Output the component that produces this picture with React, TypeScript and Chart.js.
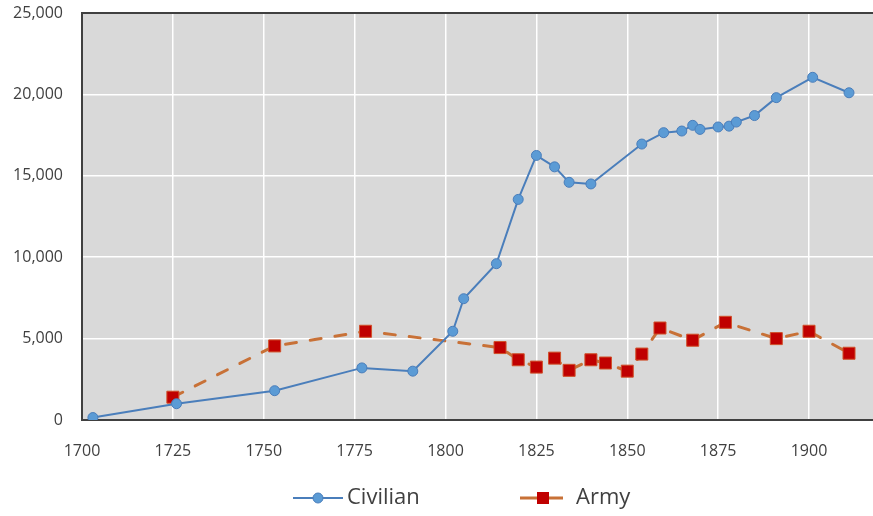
import { useEffect, useRef } from 'react';
import { Chart, registerables } from 'chart.js';

Chart.register(...registerables);

const civilianYears = [1703, 1726, 1753, 1777, 1791, 1802, 1805, 1814, 1820, 1825, 1830, 1834, 1840, 1854, 1860, 1865, 1868, 1870, 1875, 1878, 1880, 1885, 1891, 1901, 1911];
const civilianValues = [150, 1000, 1800, 3200, 3000, 5450, 7450, 9600, 13550, 16250, 15550, 14600, 14500, 16950, 17650, 17750, 18100, 17850, 18000, 18050, 18300, 18700, 19800, 21050, 20100];

const armyYears = [1725, 1753, 1778, 1815, 1820, 1825, 1830, 1834, 1840, 1844, 1850, 1854, 1859, 1868, 1877, 1891, 1900, 1911];
const armyValues = [1400, 4550, 5450, 4450, 3700, 3250, 3800, 3050, 3700, 3500, 3000, 4050, 5650, 4900, 6000, 5000, 5450, 4100];

const xTickYears = [1700, 1725, 1750, 1775, 1800, 1825, 1850, 1875, 1900];
const yTickValues = [0, 5000, 10000, 15000, 20000, 25000];

const seriesNames = ['Civilian', 'Army'];

const FONT = '"Open Sans", "Noto Sans", sans-serif';
const CIV_LINE = '#4a7ebb';
const CIV_POINT = '#5b9bd5';
const ARMY_LINE = '#c87137';
const ARMY_POINT = '#c00000';

const bgPlugin = {
  id: 'plotBg',
  beforeDraw(chart: any) {
    const { ctx, chartArea } = chart;
    ctx.save();
    ctx.fillStyle = '#d9d9d9';
    ctx.fillRect(chartArea.left, chartArea.top, chartArea.right - chartArea.left, chartArea.bottom - chartArea.top);
    ctx.restore();
  },
  afterDatasetsDraw(chart: any) {
    const { ctx, chartArea } = chart;
    ctx.save();
    ctx.strokeStyle = '#404040';
    ctx.lineWidth = 2;
    ctx.beginPath();
    ctx.moveTo(chartArea.left, chartArea.top);
    ctx.lineTo(chartArea.right + 2, chartArea.top);
    ctx.stroke();
    ctx.restore();
  },
};

const legendPlugin = {
  id: 'customLegend',
  afterDraw(chart: any) {
    const { ctx } = chart;
    const y = 498;
    ctx.save();
    // Civilian
    ctx.strokeStyle = CIV_LINE;
    ctx.lineWidth = 2;
    ctx.beginPath();
    ctx.moveTo(293, y);
    ctx.lineTo(343, y);
    ctx.stroke();
    ctx.fillStyle = CIV_POINT;
    ctx.strokeStyle = CIV_LINE;
    ctx.lineWidth = 1;
    ctx.beginPath();
    ctx.arc(318, y, 5, 0, Math.PI * 2);
    ctx.fill();
    ctx.stroke();
    // Army
    ctx.strokeStyle = ARMY_LINE;
    ctx.lineWidth = 3;
    ctx.beginPath();
    ctx.moveTo(520, y);
    ctx.lineTo(563, y);
    ctx.stroke();
    ctx.fillStyle = ARMY_POINT;
    ctx.fillRect(537, y - 6, 12, 12);
    // Text
    ctx.fillStyle = '#404040';
    ctx.font = `22px ${FONT}`;
    ctx.textBaseline = 'middle';
    ctx.textAlign = 'left';
    ctx.fillText(seriesNames[0], 347, y);
    ctx.fillText(seriesNames[1], 576, y);
    ctx.restore();
  },
};

export default function App() {
  const ref = useRef<HTMLCanvasElement>(null);

  useEffect(() => {
    document.body.style.margin = '0';
    const civ = civilianYears.map((x, i) => ({ x, y: civilianValues[i] }));
    const army = armyYears.map((x, i) => ({ x, y: armyValues[i] }));
    const chart = new Chart(ref.current as HTMLCanvasElement, {
      type: 'scatter',
      data: {
        datasets: [
          {
            label: seriesNames[0],
            data: civ,
            showLine: true,
            borderColor: CIV_LINE,
            borderWidth: 2,
            pointStyle: 'circle',
            pointRadius: 5,
            pointBackgroundColor: CIV_POINT,
            pointBorderColor: CIV_LINE,
            pointBorderWidth: 1,
            tension: 0,
          },
          {
            label: seriesNames[1],
            data: army,
            showLine: true,
            borderColor: ARMY_LINE,
            borderWidth: 3,
            borderDash: [11, 14],
            borderCapStyle: 'round',
            pointStyle: 'rect',
            pointRadius: 8.5,
            pointBackgroundColor: ARMY_POINT,
            pointBorderColor: '#d0502a',
            pointBorderWidth: 1,
            tension: 0,
          },
        ] as any,
      },
      options: {
        animation: false,
        responsive: false,
        devicePixelRatio: 1,
        layout: { autoPadding: false, padding: { left: 0, top: 13, right: 0, bottom: 60 } },
        plugins: {
          legend: { display: false },
          tooltip: { enabled: false },
        },
        scales: {
          x: {
            type: 'linear',
            min: 1700,
            max: 1917.6,
            afterBuildTicks(scale: any) {
              scale.ticks = xTickYears.map((v) => ({ value: v }));
            },
            afterFit(scale: any) {
              scale.height = 36;
              scale.paddingLeft = 0;
              scale.paddingRight = 0;
            },
            ticks: {
              font: { family: FONT, size: 16 },
              color: '#404040',
              padding: 22,
              maxRotation: 0,
              autoSkip: false,
              callback: (v: any) => String(v),
            },
            grid: { color: '#ffffff', lineWidth: 1.5, drawTicks: false },
            border: { display: true, color: '#404040', width: 2 },
          },
          y: {
            type: 'linear',
            min: 0,
            max: 25000,
            afterBuildTicks(scale: any) {
              scale.ticks = yTickValues.map((v) => ({ value: v }));
            },
            afterFit(scale: any) {
              scale.width = 82;
              scale.paddingTop = 0;
              scale.paddingBottom = 0;
            },
            ticks: {
              font: { family: FONT, size: 16 },
              color: '#404040',
              padding: 19,
              callback: (v: any) => Number(v).toLocaleString('en-US'),
            },
            grid: { color: '#ffffff', lineWidth: 1.5, drawTicks: false },
            border: { display: true, color: '#404040', width: 2 },
          },
        },
      },
      plugins: [bgPlugin, legendPlugin],
    });
    return () => chart.destroy();
  }, []);

  return (
    <div style={{ width: 873, height: 516, position: 'relative', background: '#ffffff' }}>
      <canvas ref={ref} width={873} height={516} style={{ display: 'block' }} />
    </div>
  );
}
